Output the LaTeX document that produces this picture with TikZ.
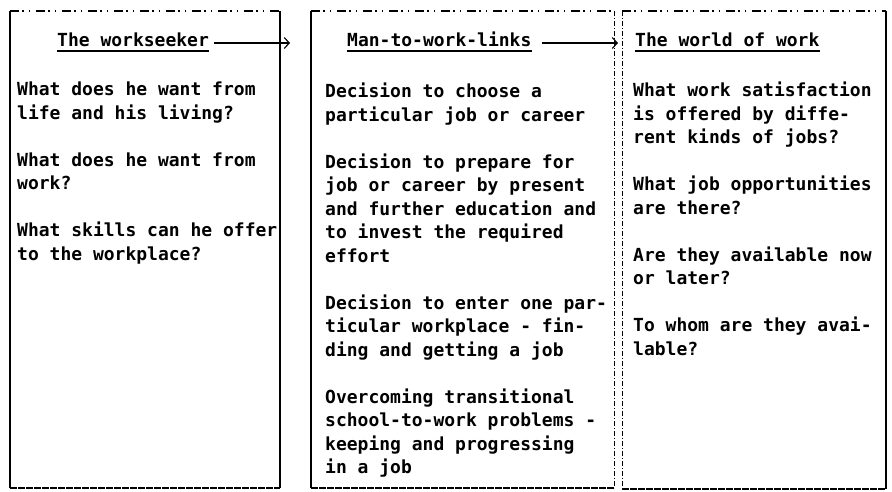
\documentclass[tikz,border=0pt]{standalone}
\usepackage{fontspec}
\setmonofont{DejaVu Sans Mono}
\usetikzlibrary{arrows.meta, positioning}

\tikzset{
  typed/.style={font=\ttfamily\bfseries\fontsize{18}{23.5}\selectfont},
  heading/.style={typed, anchor=base west, inner sep=0pt},
  column/.style={typed, anchor=north west, inner sep=0pt, align=left},
  panel/.style={anchor=north west, inner sep=0pt, outer sep=0pt},
  heavy/.style={line width=1.6pt},
  frayed/.style={line width=1.2pt, dash pattern=on 9pt off 3pt on 2pt off 5pt on 1pt off 6pt},
  hem/.style={line width=1.6pt, dash pattern=on 7pt off 1pt},
  seam/.style={line width=1pt, dash pattern=on 5pt off 2pt on 1pt off 2pt},
  uline/.style={line width=1.8pt},
  flow/.style={line width=1.1pt, -{Straight Barb[length=5pt,width=11pt]}}
}

\begin{document}
\begin{tikzpicture}[x=1pt, y=-1pt]
\useasboundingbox (0,0) rectangle (892,492);

% the three panels
\node[panel, minimum width=270pt, minimum height=477pt] (seeker) at (10,11) {};
\node[panel, minimum width=303pt, minimum height=477pt] (links) at (311,11) {};
\node[panel, minimum width=264pt, minimum height=478pt] (world) at (622,11) {};

\draw[heavy] (seeker.north west) -- (seeker.south west) (seeker.north east) -- (seeker.south east);
\draw[frayed] (seeker.north west) -- (seeker.north east);
\draw[hem] (seeker.south west) -- (seeker.south east);

\draw[heavy] (links.north west) -- (links.south west);
\draw[seam] (links.north east) -- (links.south east);
\draw[frayed] (links.north west) -- (links.north east);
\draw[hem] (links.south west) -- (links.south east);

\draw[seam] (world.north west) -- (world.south west);
\draw[heavy] (world.north east) -- (world.south east);
\draw[frayed] (world.north west) -- (world.north east);
\draw[hem] (world.south west) -- (world.south east);

% headings
\node[heading] (seekertitle) at (57,47) {The workseeker};
\node[heading] (linkstitle) at (347,47) {Man-to-work-links};
\node[heading] (worldtitle) at (635,47) {The world of work};

\foreach \t in {seekertitle, linkstitle, worldtitle}
  \draw[uline] ([yshift=-4pt]\t.base west) -- ([yshift=-4pt]\t.base east);

\draw[flow, shorten <=5pt, shorten >=57pt] ([yshift=4pt]seekertitle.base east) -- ([yshift=4pt]linkstitle.base west);
\draw[flow, shorten <=10pt, shorten >=17pt] ([yshift=4pt]linkstitle.base east) -- ([yshift=4pt]worldtitle.base west);

% column texts
\node[column] (seekerbody) at (17,82) {What does he want from\\life and his living?\\[23.5pt]What does he want from\\work?\\[23.5pt]What skills can he offer\\to the workplace?};

\node[column] (linksbody) at (325,83) {Decision to choose a\\particular job or career\\[23.5pt]Decision to prepare for\\job or career by present\\and further education and\\to invest the required\\effort\\[23.5pt]Decision to enter one par-\\ticular workplace - fin-\\ding and getting a job\\[23.5pt]Overcoming transitional\\school-to-work problems -\\keeping and progressing\\in a job};

\node[column] (worldbody) at (633,82) {What work satisfaction\\is offered by diffe-\\rent kinds of jobs?\\[23.5pt]What job opportunities\\are there?\\[23.5pt]Are they available now\\or later?\\[23.5pt]To whom are they avai-\\lable?};
\end{tikzpicture}
\end{document}
